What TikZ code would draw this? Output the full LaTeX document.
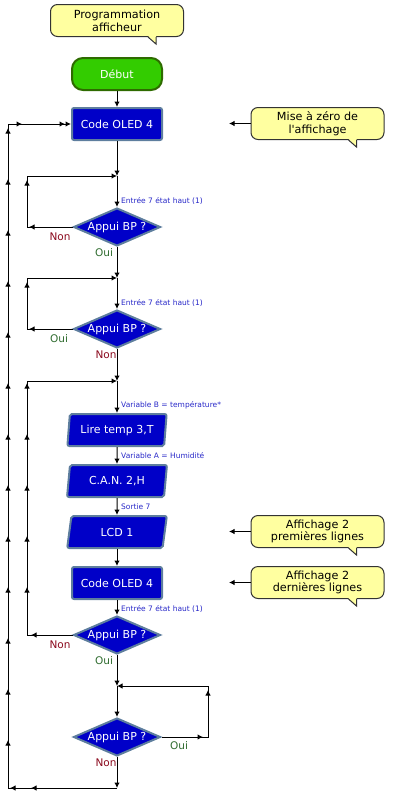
\documentclass[tikz,border=0pt]{standalone}
\usepackage{fontspec}
\setmainfont{DejaVu Sans}
\usetikzlibrary{shapes.geometric,arrows.meta,decorations.markings,calc}
\definecolor{FCBlue}{HTML}{0000C8}
\definecolor{FCEdge}{HTML}{5E7E9E}
\definecolor{FCGreen}{HTML}{33CC00}
\definecolor{FCDarkGreen}{HTML}{2E6B00}
\definecolor{FCNote}{HTML}{FFFFA0}
\definecolor{FCLabel}{HTML}{2828C8}
\definecolor{FCNon}{HTML}{8B0A1E}
\definecolor{FCOui}{HTML}{2E6B2E}

\tikzset{
  >={Latex[length=5.5pt,width=5.5pt]},
  wire/.style={line width=1pt,black},
  tip at/.style={postaction={decorate,decoration={markings,
      mark=at position #1 with {\arrow{>}}}}},
  tips from/.style args={#1 to #2}{postaction={decorate,decoration={markings,
      mark=between positions #1 and #2 step 51pt with {\arrow{>}}}}},
  start/.style={draw=FCDarkGreen,line width=2pt,fill=FCGreen,text=white,
      rounded corners=11pt,minimum width=90pt,minimum height=32pt,
      font=\fontsize{11}{13}\selectfont},
  block/.style={draw=FCEdge,line width=2pt,fill=FCBlue,text=white,
      rounded corners=2pt,minimum width=90pt,minimum height=32pt,
      font=\fontsize{11}{13}\selectfont},
  io/.style={trapezium,trapezium left angle=83,trapezium right angle=97,
      trapezium stretches=true,draw=FCEdge,line width=2pt,fill=FCBlue,
      text=white,rounded corners=2pt,minimum width=100pt,minimum height=32pt,
      font=\fontsize{11}{13}\selectfont},
  decision/.style={diamond,aspect=2.2,draw=FCEdge,line width=2pt,fill=FCBlue,
      text=white,inner sep=0pt,minimum width=87pt,minimum height=38pt,
      font=\fontsize{11}{13}\selectfont},
  callout/.style={draw=black!80,line width=1pt,fill=FCNote,rounded corners=7pt,
      minimum width=133pt,minimum height=32pt,align=center,
      font=\fontsize{11.2}{12.8}\selectfont},
  cond/.style={anchor=west,inner sep=0pt,text=FCLabel,
      font=\fontsize{7.5}{9}\selectfont},
  nonlbl/.style={inner sep=0pt,text=FCNon,font=\fontsize{10.5}{12}\selectfont},
  ouilbl/.style={inner sep=0pt,text=FCOui,font=\fontsize{10.5}{12}\selectfont},
}

\begin{document}
\begin{tikzpicture}[x=1pt,y=-1pt]
\path[use as bounding box] (0,0) rectangle (403,798);

% vertical rails of the loops
\coordinate (outer) at (8,0);
\coordinate (inner) at (27,0);
\coordinate (right) at (208,0);

% comments
\node[callout] (prog) at (117,20.5) {Programmation\\afficheur};
\node[callout] (mise) at (317.5,123.5) {Mise à zéro de\\l\textquotesingle affichage};
\node[callout] (prem) at (317.5,531.5) {Affichage 2\\premières lignes};
\node[callout] (dern) at (317.5,582.5) {Affichage 2\\dernières lignes};
\foreach \c in {prog,mise,prem,dern} {
  \fill[FCNote] ($(\c.south east)+(-36.5,-1.5)$) -- ($(\c.south east)+(-28,7)$)
    -- ($(\c.south east)+(-28,-1.5)$) -- cycle;
  \draw[line width=1pt,black!80] ($(\c.south east)+(-36,0)$)
    -- ($(\c.south east)+(-28,7)$) -- ($(\c.south east)+(-28,0)$);
}
\coordinate (mise tip) at (229,123.5);
\coordinate (prem tip) at (229,531.5);
\coordinate (dern tip) at (229,582.5);
\draw[wire,->] (mise.west) -- (mise tip);
\draw[wire,->] (prem.west) -- (prem tip);
\draw[wire,->] (dern.west) -- (dern tip);

% flowchart
\node[start] (debut) at (117,74) {Début};
\node[block] (oled1) at (117,124) {Code OLED 4};
\coordinate (j1) at (117,176);
\node[decision] (d1) at (117,227) {Appui BP ?};
\coordinate (j2) at (117,278);
\node[decision] (d2) at (117,329) {Appui BP ?};
\coordinate (j3) at (117,381);
\node[io] (lire) at (117,430) {Lire temp 3,T};
\node[io] (can) at (117,481) {C.A.N. 2,H};
\node[io] (lcd) at (117,532) {LCD 1};
\node[block] (oled2) at (117,583) {Code OLED 4};
\node[decision] (d3) at (117,635) {Appui BP ?};
\coordinate (j4) at (117,686);
\node[decision] (d4) at (117,737) {Appui BP ?};
\coordinate (b1) at (117,788);

\draw[wire,->] (debut) -- (oled1);
\draw[wire,->] (oled1) -- (j1);
\draw[wire,->] (j1) -- (d1);
\draw[wire,->] (d1) -- (j2);
\draw[wire,->] (j2) -- (d2);
\draw[wire,->] (d2) -- (j3);
\draw[wire,->] (j3) -- (lire);
\draw[wire,->] (lire) -- (can);
\draw[wire,->] (can) -- (lcd);
\draw[wire,->] (lcd) -- (oled2);
\draw[wire,->] (oled2) -- (d3);
\draw[wire,->] (d3) -- (j4);
\draw[wire,->] (j4) -- (d4);
\draw[wire,->] (d4) -- (b1);

% loops
\draw[wire,->,tip at=43.5pt,tip at=92.5pt]
  (d1.west) -- (d1.west -| inner) -- (inner |- j1) -- (j1);
\draw[wire,->,tip at=43.5pt,tip at=92.5pt]
  (d2.west) -- (d2.west -| inner) -- (inner |- j2) -- (j2);
\draw[wire,->,tip at=41.5pt,tips from=93.5pt to 299pt]
  (d3.west) -- (d3.west -| inner) -- (inner |- j3) -- (j3);
\draw[wire,->,tip at=41.5pt,tip at=93.5pt]
  (d4.east) -- (d4.east -| right) -- (right |- j4) -- (j4);
\draw[wire,->,tip at=86pt,tip at=107pt,tips from=157pt to 770pt,
    tip at=787pt,tip at=830pt]
  (b1) -- (b1 -| outer) -- (outer |- oled1) -- (oled1.west);

% labels
\node[cond] (c1) at (121,201) {Entrée 7 état haut (1)};
\node[cond] (c2) at (121,303) {Entrée 7 état haut (1)};
\node[cond] (c3) at (121,405) {Variable B = température*};
\node[cond] (c4) at (121,456) {Variable A = Humidité};
\node[cond] (c5) at (121,507) {Sortie 7};
\node[cond] (c6) at (121,609) {Entrée 7 état haut (1)};
\node[nonlbl] (n1) at (60,237) {Non};
\node[ouilbl] (o1) at (104,253) {Oui};
\node[ouilbl] (o2) at (59,339) {Oui};
\node[nonlbl] (n2) at (106,355) {Non};
\node[nonlbl] (n3) at (60,645) {Non};
\node[ouilbl] (o3) at (104,661) {Oui};
\node[ouilbl] (o4) at (179,746) {Oui};
\node[nonlbl] (n4) at (106,763) {Non};
\end{tikzpicture}
\end{document}
